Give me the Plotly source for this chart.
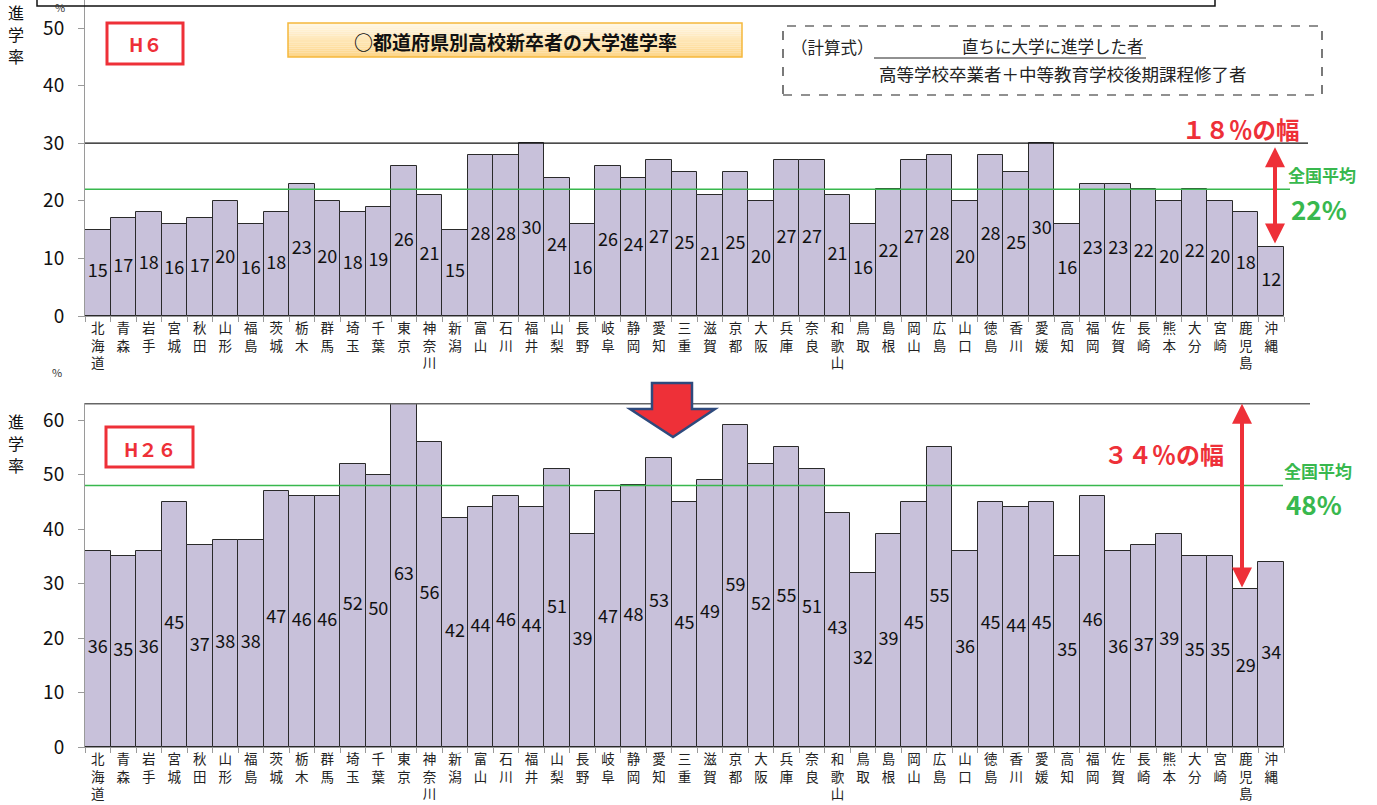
import plotly.graph_objects as go

# 都道府県別 高校新卒者の大学進学率 (%)
prefectures = [
    "北海道", "青森", "岩手", "宮城", "秋田", "山形", "福島", "茨城", "栃木", "群馬",
    "埼玉", "千葉", "東京", "神奈川", "新潟", "富山", "石川", "福井", "山梨", "長野",
    "岐阜", "静岡", "愛知", "三重", "滋賀", "京都", "大阪", "兵庫", "奈良", "和歌山",
    "鳥取", "島根", "岡山", "広島", "山口", "徳島", "香川", "愛媛", "高知", "福岡",
    "佐賀", "長崎", "熊本", "大分", "宮崎", "鹿児島", "沖縄",
]
rate_h6 = [
    15, 17, 18, 16, 17, 20, 16, 18, 23, 20,
    18, 19, 26, 21, 15, 28, 28, 30, 24, 16,
    26, 24, 27, 25, 21, 25, 20, 27, 27, 21,
    16, 22, 27, 28, 20, 28, 25, 30, 16, 23,
    23, 22, 20, 22, 20, 18, 12,
]
rate_h26 = [
    36, 35, 36, 45, 37, 38, 38, 47, 46, 46,
    52, 50, 63, 56, 42, 44, 46, 44, 51, 39,
    47, 48, 53, 45, 49, 59, 52, 55, 51, 43,
    32, 39, 45, 55, 36, 45, 44, 45, 35, 46,
    36, 37, 39, 35, 35, 29, 34,
]
national_avg_h6 = 22
national_avg_h26 = 48
y_ticks_h6 = [0, 10, 20, 30, 40, 50]
y_ticks_h26 = [0, 10, 20, 30, 40, 50, 60]

W, H = 1377, 805
FONT = "Noto Sans CJK JP"
BAR_FILL = "#C8C1DA"
BAR_EDGE = "#2a2a2a"
AXIS_GREY = "#9a9a9a"
RED = "#EE3038"
GREEN = "#38B84E"


def px(x):
    return x / W


def py(y):
    return 1 - y / H


tick_text = ["<br>".join(p) for p in prefectures]

fig = go.Figure()

for rates, xa, ya in [(rate_h6, "x", "y"), (rate_h26, "x2", "y2")]:
    fig.add_trace(go.Bar(
        x=prefectures, y=rates, xaxis=xa, yaxis=ya,
        marker=dict(color=BAR_FILL, line=dict(color=BAR_EDGE, width=1)),
        hoverinfo="x+y",
    ))
    # value labels centred inside each bar
    fig.add_trace(go.Scatter(
        x=prefectures, y=[v / 2 for v in rates], xaxis=xa, yaxis=ya,
        mode="text", text=[str(v) for v in rates],
        textfont=dict(family=FONT, size=18, color="#111"),
        hoverinfo="skip",
    ))

x_common = dict(
    type="category", range=[-0.5, len(prefectures) - 0.5],
    domain=[px(85), px(1284)], automargin=False,
    showline=True, linecolor=AXIS_GREY, linewidth=1,
    ticks="outside", tickson="boundaries", ticklen=5, tickcolor=AXIS_GREY,
    tickvals=prefectures, ticktext=tick_text,
    tickfont=dict(family=FONT, size=13.5, color="#222"),
    showgrid=False, zeroline=False, fixedrange=True,
)
y_common = dict(
    showline=True, linecolor=AXIS_GREY, linewidth=1, automargin=False,
    ticks="outside", ticklen=6, tickcolor=AXIS_GREY, ticklabelstandoff=10,
    tickfont=dict(family=FONT, size=19, color="#111"),
    showgrid=False, zeroline=False, fixedrange=True,
)

fig.update_layout(
    width=W, height=H,
    margin=dict(l=0, r=0, t=0, b=0, autoexpand=False),
    paper_bgcolor="white", plot_bgcolor="white",
    showlegend=False, bargap=0,
    font=dict(family=FONT),
    xaxis=dict(**x_common, anchor="y"),
    xaxis2=dict(**x_common, anchor="y2"),
    yaxis=dict(**y_common, anchor="x", domain=[py(316), 1],
               range=[0, 50 * 316 / 288], tickvals=y_ticks_h6),
    yaxis2=dict(**y_common, anchor="x2", domain=[py(747), py(403)],
                range=[0, 60 * 344 / 327], tickvals=y_ticks_h26),
)

shapes = []
# maximum and national-average reference lines
shapes.append(dict(type="line", xref="paper", yref="y", x0=px(85), x1=px(1308),
                   y0=max(rate_h6), y1=max(rate_h6), line=dict(color="#111", width=1.3)))
shapes.append(dict(type="line", xref="paper", yref="y", x0=px(85), x1=px(1290),
                   y0=national_avg_h6, y1=national_avg_h6, line=dict(color=GREEN, width=1.5)))
shapes.append(dict(type="line", xref="paper", yref="y2", x0=px(85), x1=px(1310),
                   y0=max(rate_h26), y1=max(rate_h26), line=dict(color="#666", width=1.5)))
shapes.append(dict(type="line", xref="paper", yref="y2", x0=px(85), x1=px(1283),
                   y0=national_avg_h26, y1=national_avg_h26, line=dict(color=GREEN, width=1.5)))

# frame at the top edge
shapes.append(dict(type="rect", xref="paper", yref="paper", x0=px(37), x1=px(1215),
                   y0=py(6), y1=py(-30), line=dict(color="#111", width=1.5)))

# year badges
shapes.append(dict(type="rect", xref="paper", yref="paper", x0=px(107), x1=px(183),
                   y0=py(64), y1=py(23), line=dict(color=RED, width=3)))
shapes.append(dict(type="rect", xref="paper", yref="paper", x0=px(106), x1=px(193),
                   y0=py(467), y1=py(427), line=dict(color=RED, width=3)))

# title plate with a soft vertical gradient
top_c = (255, 246, 226)
bot_c = (253, 214, 138)
n_strips = 16
t0, t1 = 23, 57
for i in range(n_strips):
    f = i / (n_strips - 1)
    c = tuple(round(top_c[k] + (bot_c[k] - top_c[k]) * f) for k in range(3))
    ya0 = t0 + (t1 - t0) * i / n_strips
    ya1 = t0 + (t1 - t0) * (i + 1) / n_strips
    shapes.append(dict(type="rect", xref="paper", yref="paper", x0=px(288), x1=px(742),
                       y0=py(ya1), y1=py(ya0), line=dict(width=0),
                       fillcolor="rgb(%d,%d,%d)" % c, layer="below"))
shapes.append(dict(type="rect", xref="paper", yref="paper", x0=px(288), x1=px(742),
                   y0=py(57), y1=py(23), line=dict(color="#F5B83C", width=1.5)))

# formula box with fraction bar
shapes.append(dict(type="rect", xref="paper", yref="paper", x0=px(783), x1=px(1322),
                   y0=py(95), y1=py(26), line=dict(color="#222", width=1.2, dash="dash")))
shapes.append(dict(type="line", xref="paper", yref="paper", x0=px(874), x1=px(1146),
                   y0=py(58), y1=py(58), line=dict(color="#222", width=1)))

# large downward arrow between the panels
arrow_pts = [(652, 383), (692, 383), (692, 409), (715, 409), (673, 437), (630, 409), (652, 409)]
path = "M " + " L ".join("%.5f,%.5f" % (px(x), py(y)) for x, y in arrow_pts) + " Z"
shapes.append(dict(type="path", xref="paper", yref="paper", path=path,
                   fillcolor=RED, line=dict(color="#2E4A7D", width=2.5)))

fig.update_layout(shapes=shapes)

ann = []


def text(x, y, s, size, color="#111", bold=False, xanchor="center"):
    ann.append(dict(xref="paper", yref="paper", x=px(x), y=py(y), text=("<b>%s</b>" % s) if bold else s,
                    showarrow=False, xanchor=xanchor, yanchor="middle", borderpad=0,
                    font=dict(family=FONT, size=size, color=color)))


text(145, 44, "H６", 19, RED, bold=True)
text(150, 448, "H２６", 19, RED, bold=True)
text(515, 41, "○都道府県別高校新卒者の大学進学率", 19, "#111", bold=True)
text(790, 47, "（計算式）", 16.5, "#222", xanchor="left")
text(1053, 46, "直ちに大学に進学した者", 16.5, "#222")
text(1063, 73, "高等学校卒業者＋中等教育学校後期課程修了者", 17.5, "#222")
text(1241, 129, "１８％の幅", 23.5, RED, bold=True)
text(1322, 175, "全国平均", 17, GREEN, bold=True)
text(1319, 208, "%d%%" % national_avg_h6, 26, GREEN, bold=True)
text(1164, 453, "３４％の幅", 24, RED, bold=True)
text(1318, 470, "全国平均", 17, GREEN, bold=True)
text(1314, 503, "%d%%" % national_avg_h26, 26, GREEN, bold=True)

# vertical axis title, one character per row
for top in (12, 421):
    for k, ch in enumerate("進学率"):
        text(16, top + 22 * k, ch, 16, "#111")

text(57, 372, "%", 11, "#333")
text(60, 7, "%", 11, "#333")

# spread arrows between the highest and lowest prefecture
ann.append(dict(xref="paper", yref="y", x=px(1275), y=max(rate_h6),
                axref="pixel", ayref="y", ax=0, ay=min(rate_h6),
                showarrow=True, arrowside="end+start", arrowhead=2, startarrowhead=2,
                arrowsize=1, startarrowsize=1, arrowwidth=4, arrowcolor=RED,
                standoff=4, startstandoff=2, text=""))
ann.append(dict(xref="paper", yref="y2", x=px(1242), y=max(rate_h26),
                axref="pixel", ayref="y2", ax=0, ay=min(rate_h26),
                showarrow=True, arrowside="end+start", arrowhead=2, startarrowhead=2,
                arrowsize=1, startarrowsize=1, arrowwidth=4, arrowcolor=RED,
                standoff=0, startstandoff=0, text=""))

fig.update_layout(annotations=ann)

fig.write_html("out.html")
